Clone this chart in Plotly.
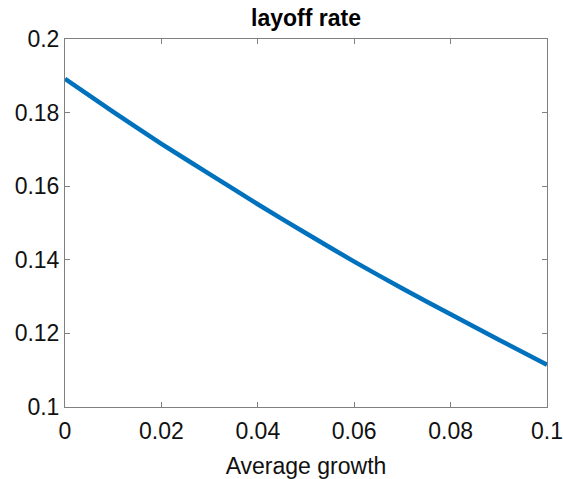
import plotly.graph_objects as go

# Average growth rate and the resulting layoff rate
growth = [0.0, 0.01, 0.02, 0.03, 0.04, 0.05, 0.06, 0.07, 0.08, 0.09, 0.10]
layoff = [0.1892, 0.1802, 0.1715, 0.1633, 0.1551, 0.1472, 0.1395, 0.1322, 0.1252, 0.1183, 0.1115]

x_ticks = [0, 0.02, 0.04, 0.06, 0.08, 0.1]
x_labels = ["0", "0.02", "0.04", "0.06", "0.08", "0.1"]
y_ticks = [0.1, 0.12, 0.14, 0.16, 0.18, 0.2]
y_labels = ["0.1", "0.12", "0.14", "0.16", "0.18", "0.2"]

font_family = "Liberation Sans, Arial, sans-serif"
text_color = "#111111"

fig = go.Figure()
fig.add_trace(go.Scatter(
    x=growth, y=layoff, mode="lines",
    line=dict(color="#0072BD", width=4.5, shape="spline", smoothing=0.6),
    showlegend=False,
))

axis_common = dict(
    showline=True, linecolor="#808080", linewidth=1, mirror="ticks",
    ticks="inside", ticklen=5, tickcolor="#808080", tickwidth=1,
    showgrid=False, zeroline=False, automargin=False,
    tickfont=dict(family=font_family, size=23, color=text_color),
)

fig.update_layout(
    width=563, height=479,
    margin=dict(l=65, r=16, t=39, b=72),
    paper_bgcolor="white", plot_bgcolor="white",
    title=dict(
        text="<b>layoff rate</b>", x=0.5435, xanchor="center",
        y=0.962, yanchor="middle",
        font=dict(family=font_family, size=23, color="black"),
    ),
    xaxis=dict(
        range=[0, 0.1], tickvals=x_ticks, ticktext=x_labels,
        ticklabelstandoff=3,
        title=dict(text="Average growth", standoff=16,
                   font=dict(family=font_family, size=23, color=text_color)),
        **axis_common,
    ),
    yaxis=dict(
        range=[0.1, 0.2], tickvals=y_ticks, ticktext=y_labels,
        **axis_common,
    ),
)

fig.write_html("out.html")
